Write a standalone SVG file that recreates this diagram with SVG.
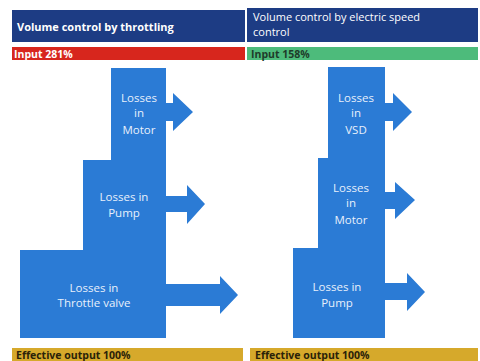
<svg xmlns="http://www.w3.org/2000/svg" width="480" height="361" viewBox="0 0 480 361">
<style>
.hdr{fill:#1d3c84}
.blk{fill:#2b7bd5}
.arr{fill:#2b7bd5}
.ht{font-family:"Open Sans","Liberation Sans",sans-serif;font-size:11px;fill:#ffffff}
.bt{font-family:"Open Sans","Liberation Sans",sans-serif;font-size:10.5px;font-weight:bold}
.lt{font-family:"Open Sans","Liberation Sans",sans-serif;font-size:11.5px;fill:#e8f0fb;text-anchor:middle}
</style>
<rect width="480" height="361" fill="#ffffff"/>
<g id="header-left">
<rect class="hdr" x="12" y="10" width="233" height="32"/>
<text class="ht" x="17" y="31" font-weight="bold" font-size="10.5">Volume control by throttling</text>
</g>
<g id="header-right">
<rect class="hdr" x="247" y="8" width="231" height="34"/>
<text class="ht" x="253" y="21">Volume control by electric speed</text>
<text class="ht" x="253" y="36">control</text>
</g>
<g id="input-left">
<rect x="12" y="47" width="233" height="13" fill="#d7261d"/>
<text class="bt" x="14" y="57.5" fill="#ffffff">Input 281%</text>
</g>
<g id="input-right">
<rect x="247" y="47" width="231" height="13" fill="#4dbb7b"/>
<text class="bt" x="251" y="57.5" fill="#1e3b2a">Input 158%</text>
</g>
<g id="connectors">
<polygon class="arr" points="165,103 173,103 173,93 193,112 173,131 173,121 165,121"/>
<polygon class="arr" points="165,196 187,196 187,185 205,204 187,224 187,212 165,212"/>
<polygon class="arr" points="165,284 220,284 220,276 238,295 220,314 220,306 165,306"/>
<polygon class="arr" points="384,103 393,103 393,93 412,112 393,131 393,121 384,121"/>
<polygon class="arr" points="384,192 395,192 395,182 415,200 395,219 395,209 384,209"/>
<polygon class="arr" points="384,283 407,283 407,273 425,292 407,311 407,300 384,300"/>
</g>
<g id="left-motor">
<rect class="blk" x="111" y="68" width="55" height="93"/>
<text class="lt" x="139" y="102">Losses</text>
<text class="lt" x="139" y="117">in</text>
<text class="lt" x="139" y="134">Motor</text>
</g>
<g id="left-pump">
<rect class="blk" x="83" y="160" width="83" height="91"/>
<text class="lt" x="124" y="201">Losses in</text>
<text class="lt" x="124" y="217">Pump</text>
</g>
<g id="left-throttle">
<rect class="blk" x="20" y="250" width="146" height="88"/>
<text class="lt" x="94" y="292">Losses in</text>
<text class="lt" x="94" y="307">Throttle valve</text>
</g>
<g id="right-vsd">
<rect class="blk" x="328" y="67" width="57" height="92"/>
<text class="lt" x="356" y="102">Losses</text>
<text class="lt" x="356" y="117">in</text>
<text class="lt" x="356" y="134">VSD</text>
</g>
<g id="right-motor">
<rect class="blk" x="318" y="158" width="67" height="91"/>
<text class="lt" x="351" y="192">Losses</text>
<text class="lt" x="351" y="207">in</text>
<text class="lt" x="351" y="224">Motor</text>
</g>
<g id="right-pump">
<rect class="blk" x="293" y="248" width="92" height="90"/>
<text class="lt" x="337" y="291">Losses in</text>
<text class="lt" x="337" y="307">Pump</text>
</g>
<g id="output-left">
<rect x="12" y="348" width="231" height="13" fill="#d6a92b"/>
<text class="bt" x="16" y="358.5" fill="#2a2208">Effective output 100%</text>
</g>
<g id="output-right">
<rect x="250" y="348" width="228" height="13" fill="#d6a92b"/>
<text class="bt" x="255" y="358.5" fill="#2a2208">Effective output 100%</text>
</g>
</svg>
